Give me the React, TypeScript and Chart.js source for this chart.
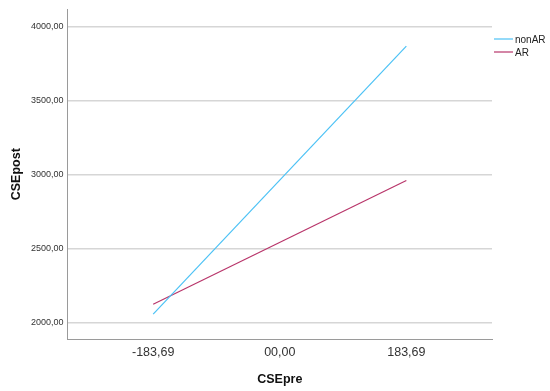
import React, { useEffect, useRef } from "react";
import { Chart, registerables } from "chart.js";

Chart.register(...registerables);

const seriesNames = ["nonAR", "AR"];
const xValues = [-183.69, 183.69];
const nonARValues = [2058, 3866];
const ARValues = [2125, 2960];
const xTicks = [-183.69, 0, 183.69];
const xTickLabels = ["-183,69", "00,00", "183,69"];
const yTicks = [2000, 2500, 3000, 3500, 4000];
const colors = ["#4cc2f5", "#b8356a"];

const legendPlugin = {
  id: "customLegend",
  afterDraw(chart: any) {
    const ctx = chart.ctx;
    ctx.save();
    ctx.font = "10px Arial, 'Liberation Sans', sans-serif";
    ctx.textBaseline = "middle";
    ctx.textAlign = "left";
    chart.data.datasets.forEach((ds: any, i: number) => {
      const y = 39 + i * 13;
      ctx.strokeStyle = ds.borderColor;
      ctx.lineWidth = 1.2;
      ctx.beginPath();
      ctx.moveTo(494, y);
      ctx.lineTo(513, y);
      ctx.stroke();
      ctx.fillStyle = "#222";
      ctx.fillText(ds.label, 515, y + 1);
    });
    ctx.restore();
  },
};

export default function App() {
  const ref = useRef<HTMLCanvasElement>(null);
  useEffect(() => {
    const mk = (vals: number[]) => xValues.map((x, i) => ({ x, y: vals[i] }));
    const chart = new Chart(ref.current!, {
      type: "line",
      data: {
        datasets: [
          { label: seriesNames[0], data: mk(nonARValues), borderColor: colors[0], backgroundColor: colors[0], borderWidth: 1.2, pointRadius: 0, fill: false },
          { label: seriesNames[1], data: mk(ARValues), borderColor: colors[1], backgroundColor: colors[1], borderWidth: 1.2, pointRadius: 0, fill: false },
        ],
      },
      options: {
        responsive: false,
        animation: false,
        layout: { padding: { left: 9, right: 58, top: 8, bottom: 4 } },
        plugins: { legend: { display: false }, tooltip: { enabled: false } },
        scales: {
          x: {
            type: "linear",
            min: -308,
            max: 308,
            afterBuildTicks: (s: any) => { s.ticks = xTicks.map((v) => ({ value: v })); },
            ticks: {
              callback: (v: any) => xTickLabels[xTicks.indexOf(Number(v))] ?? "",
              font: { family: "Arial, 'Liberation Sans', sans-serif", size: 12.5 },
              color: "#333",
              padding: 6,
              autoSkip: false,
              maxRotation: 0,
            },
            grid: { display: false, drawTicks: false },
            border: { display: true, color: "#9a9a9a", width: 1 },
            title: { display: true, text: "CSEpre", font: { family: "Arial, 'Liberation Sans', sans-serif", size: 12.5, weight: "bold" }, color: "#111", padding: { top: 6, bottom: 0 } },
          },
          y: {
            type: "linear",
            min: 1890,
            max: 4114,
            afterBuildTicks: (s: any) => { s.ticks = yTicks.map((v) => ({ value: v })); },
            ticks: {
              callback: (v: any) => Number(v).toFixed(2).replace(".", ","),
              font: { family: "Arial, 'Liberation Sans', sans-serif", size: 9 },
              color: "#333",
              padding: 4,
            },
            grid: { color: "#d6d6d6", lineWidth: 1.5, drawTicks: false },
            border: { display: true, color: "#9a9a9a", width: 1 },
            title: { display: true, text: "CSEpost", font: { family: "Arial, 'Liberation Sans', sans-serif", size: 12.5, weight: "bold" }, color: "#111", padding: { top: 0, bottom: 3 } },
          },
        },
      },
      plugins: [legendPlugin],
    });
    return () => chart.destroy();
  }, []);
  return (
    <div style={{ position: "absolute", left: 0, top: 0, width: 550, height: 391, background: "#fff" }}>
      <canvas ref={ref} width={550} height={391} style={{ display: "block" }} />
    </div>
  );
}
